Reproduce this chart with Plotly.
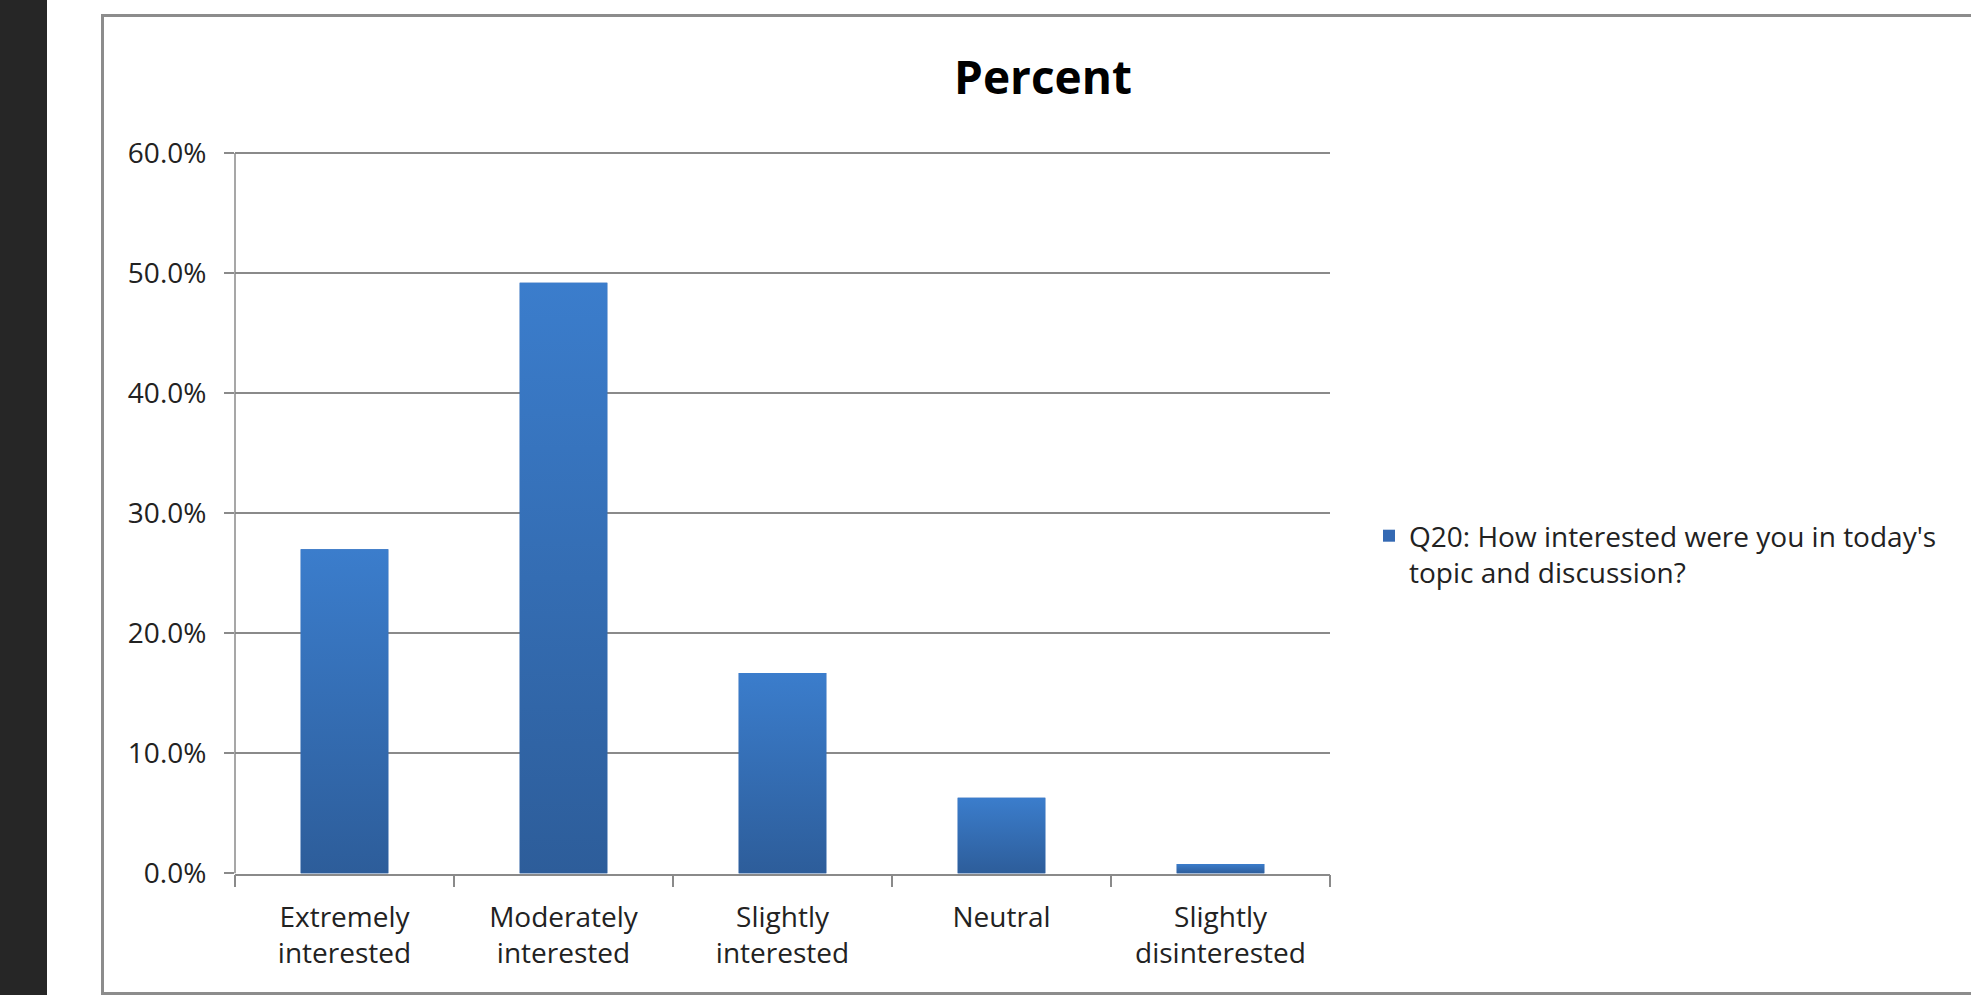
import plotly.graph_objects as go

# Survey responses (share of respondents, %)
categories = ["Extremely<br>interested", "Moderately<br>interested", "Slightly<br>interested",
              "Neutral", "Slightly<br>disinterested"]
percent = [27.0, 49.2, 16.7, 6.3, 0.8]
series_name = "Q20: How interested were you in today's<br>topic and discussion?"
y_ticks = [0, 10, 20, 30, 40, 50, 60]

W, H = 1971, 995
BAR_W = 0.4
FONT = "Open Sans"
TEXT = "#222222"
GRID = "#8a8a8a"
BLUE_MID = "#3469B3"
BLUE_TOP = "#3B7DCC"
BLUE_BOT = "#2D5D9A"

# pixel geometry of the value axis: 0 % and 60 % positions
Y0_PX, Y60_PX = 873.5, 153.0
Y_HEAD = 0.3  # small headroom so the 60 % gridline is drawn inside the plot
px_per_unit = (Y0_PX - Y60_PX) / y_ticks[-1]


def px_x(p):
    return p / W


def px_y(p):
    return 1 - p / H


fig = go.Figure()

# Main bar series (also provides the legend entry)
fig.add_trace(go.Bar(
    x=categories,
    y=percent,
    width=BAR_W,
    name=series_name,
    marker=dict(color=BLUE_MID, line=dict(width=0)),
    xaxis="x", yaxis="y",
    showlegend=True,
))

# Vertical gradient face for each bar, drawn on an overlaid linear axis
for i, v in enumerate(percent):
    x0, x1 = i - BAR_W / 2, i + BAR_W / 2
    fig.add_trace(go.Scatter(
        x=[x0, x0, x1, x1, x0],
        y=[0, v, v, 0, 0],
        mode="lines",
        line=dict(width=0),
        fill="toself",
        fillgradient=dict(type="vertical",
                          colorscale=[[0, BLUE_BOT], [1, BLUE_TOP]]),
        xaxis="x2", yaxis="y",
        showlegend=False,
        hoverinfo="skip",
    ))

x_domain = [px_x(235), px_x(1330)]
y_domain = [px_y(Y0_PX), px_y(Y60_PX - Y_HEAD * px_per_unit)]

fig.update_layout(
    template="none",
    width=W, height=H,
    margin=dict(l=0, r=0, t=0, b=0, pad=0, autoexpand=False),
    paper_bgcolor="white",
    plot_bgcolor="white",
    font=dict(family=FONT, color=TEXT),
    title=dict(
        text="Percent",
        font=dict(family=FONT, size=46, weight="bold", color="black"),
        x=px_x(1043), xanchor="center",
        y=px_y(78), yanchor="middle",
        xref="paper", yref="paper",
        automargin=False,
    ),
    xaxis=dict(
        type="category",
        domain=x_domain,
        range=[-0.5, len(categories) - 0.5],
        tickson="boundaries",
        ticks="outside",
        ticklen=12,
        tickwidth=1.5,
        tickcolor=GRID,
        showline=True,
        linecolor=GRID,
        linewidth=1.5,
        showgrid=False,
        zeroline=False,
        tickfont=dict(family=FONT, size=28, color=TEXT),
        ticklabelstandoff=18,
        anchor="y",
        automargin=False,
        fixedrange=True,
    ),
    xaxis2=dict(
        type="linear",
        domain=x_domain,
        range=[-0.5, len(categories) - 0.5],
        overlaying="x",
        anchor="y",
        visible=False,
        automargin=False,
        fixedrange=True,
    ),
    yaxis=dict(
        domain=y_domain,
        range=[0, y_ticks[-1] + Y_HEAD],
        tickmode="array",
        tickvals=y_ticks,
        ticktext=[f"{t:.1f}%" for t in y_ticks],
        ticks="outside",
        ticklen=10,
        tickwidth=1.5,
        tickcolor=GRID,
        showline=False,
        showgrid=True,
        gridcolor=GRID,
        gridwidth=1.5,
        zeroline=False,
        tickfont=dict(family=FONT, size=28, color=TEXT),
        ticklabelstandoff=12,
        anchor="x",
        automargin=False,
        fixedrange=True,
    ),
    legend=dict(
        x=px_x(1369), xanchor="left",
        y=px_y(511), yanchor="top",
        font=dict(family=FONT, size=28, color=TEXT),
        valign="top",
        bgcolor="rgba(0,0,0,0)",
        borderwidth=0,
    ),
    shapes=[
        # dark strip on the left edge
        dict(type="rect", xref="paper", yref="paper",
             x0=0, x1=px_x(47), y0=0, y1=1,
             fillcolor="#262626", line=dict(width=0), layer="below"),
        # chart frame
        dict(type="rect", xref="paper", yref="paper",
             x0=px_x(102.5), x1=px_x(W + 10), y0=px_y(993.5), y1=px_y(15.5),
             fillcolor="rgba(0,0,0,0)", line=dict(color="#8c8c8c", width=3),
             layer="below"),
        # value-axis line from 0 % to 60 %
        dict(type="line", xref="x domain", yref="y",
             x0=0, x1=0, y0=y_ticks[0], y1=y_ticks[-1],
             line=dict(color=GRID, width=1.5), layer="above"),
    ],
    bargap=0.6,
    hovermode=False,
)

fig.write_html("out.html")
